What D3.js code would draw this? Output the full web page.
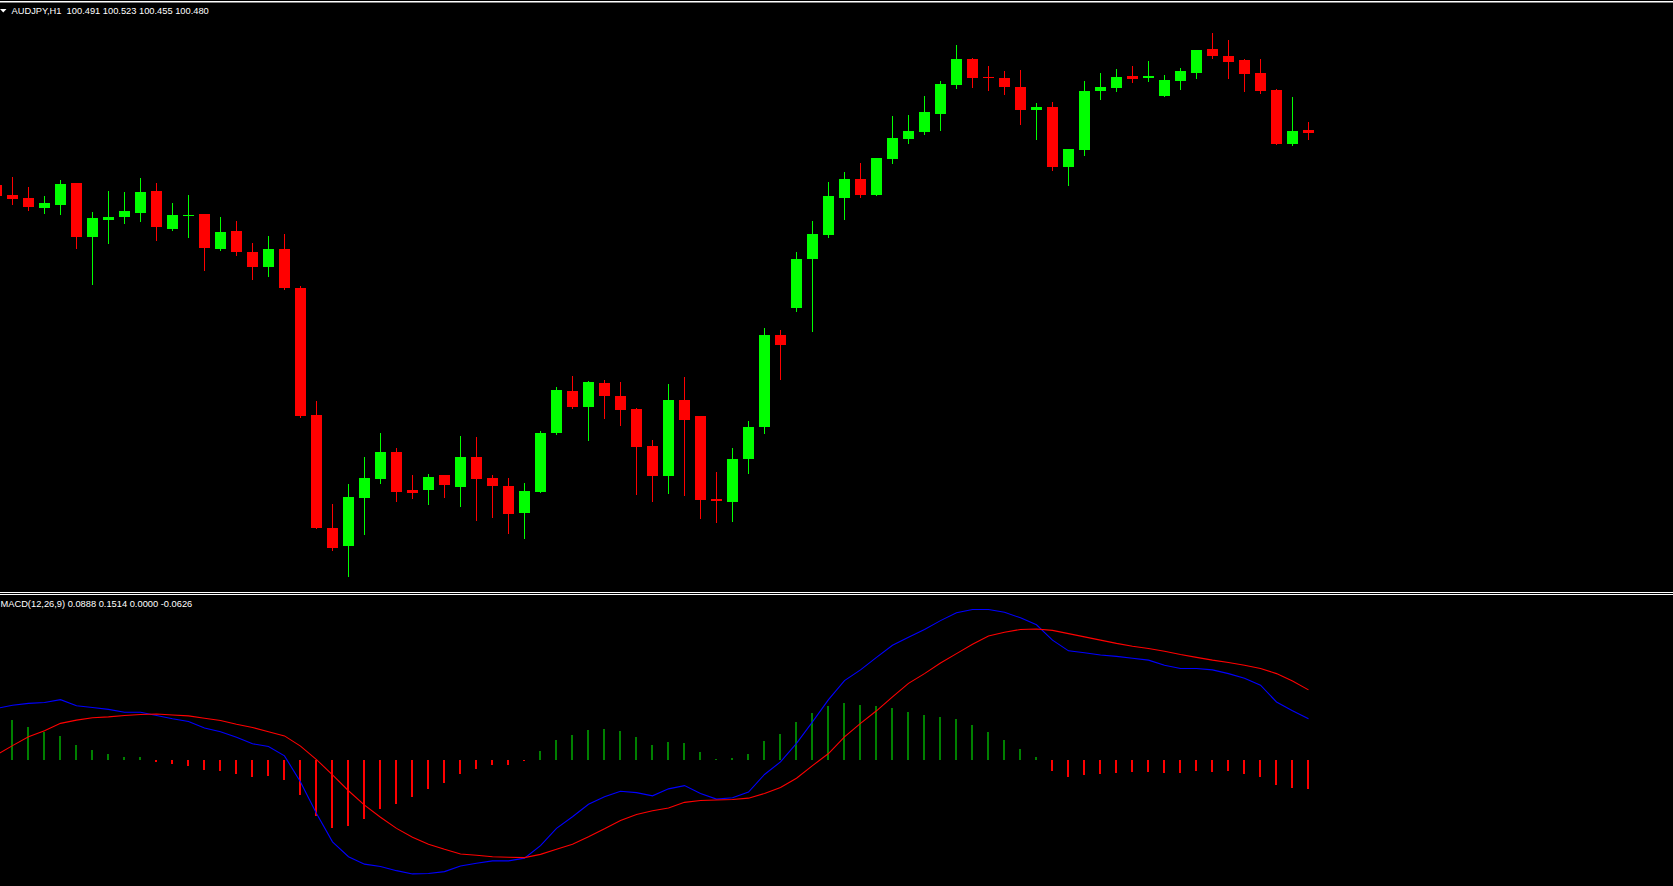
<!DOCTYPE html>
<html>
<head>
<meta charset="utf-8">
<script src="https://cdn.jsdelivr.net/npm/d3@7/dist/d3.min.js"></script>
<style>
  html, body { margin: 0; padding: 0; background: #000; overflow: hidden; }
  svg { display: block; }
</style>
</head>
<body>
<svg id="chart" width="1673" height="886"></svg>
<script>
// ---------- DATA ----------
const symbolLabel = "AUDJPY,H1";
const headerValues = ["100.491", "100.523", "100.455", "100.480"];
const macdLabel = "MACD(12,26,9)";
const macdHeaderValues = ["0.0888", "0.1514", "0.0000", "-0.0626"];

// bar numbers (-1 = partially visible bar at the left edge)
const barIndex = [-1,0,1,2,3,4,5,6,7,8,9,10,11,12,13,14,15,16,17,18,19,20,21,22,23,24,25,26,27,28,29,30,31,32,33,34,35,36,37,38,39,40,41,42,43,44,45,46,47,48,49,50,51,52,53,54,55,56,57,58,59,60,61,62,63,64,65,66,67,68,69,70,71,72,73,74,75,76,77,78,79,80,81];

const open = [100.271,100.231,100.219,100.180,100.191,100.279,100.063,100.131,100.143,100.159,100.247,100.095,100.147,100.155,100.015,100.087,100.003,99.943,100.015,99.859,99.351,98.899,98.828,99.020,99.096,99.203,99.051,99.052,99.111,99.064,99.183,99.099,99.067,98.960,99.044,99.280,99.447,99.384,99.479,99.427,99.375,99.227,99.108,99.411,99.347,99.015,99.004,99.176,99.304,99.671,99.780,99.976,100.072,100.220,100.295,100.232,100.376,100.456,100.484,100.556,100.672,100.775,100.703,100.699,100.663,100.572,100.583,100.344,100.412,100.648,100.660,100.707,100.700,100.628,100.688,100.720,100.815,100.787,100.771,100.719,100.651,100.436,100.491];
const high = [100.279,100.303,100.263,100.227,100.291,100.279,100.163,100.247,100.243,100.299,100.279,100.199,100.231,100.155,100.143,100.127,100.039,100.067,100.075,99.867,99.407,98.995,99.075,99.183,99.279,99.219,99.111,99.115,99.111,99.267,99.263,99.111,99.099,99.079,99.287,99.463,99.507,99.487,99.491,99.483,99.379,99.251,99.475,99.503,99.347,99.123,99.219,99.327,99.699,99.691,100.003,100.127,100.283,100.323,100.359,100.379,100.547,100.551,100.627,100.687,100.831,100.779,100.747,100.727,100.731,100.599,100.603,100.415,100.687,100.719,100.735,100.747,100.767,100.711,100.739,100.811,100.879,100.851,100.775,100.775,100.655,100.623,100.523];
const low = [100.219,100.196,100.172,100.160,100.156,100.020,99.876,100.040,100.120,100.127,100.051,100.091,100.063,99.932,100.012,99.991,99.896,99.908,99.856,99.344,98.898,98.812,98.708,98.876,99.080,99.008,99.020,98.996,99.024,98.988,98.932,98.944,98.880,98.860,99.044,99.276,99.380,99.252,99.340,99.312,99.036,99.008,99.040,99.032,98.940,98.924,98.928,99.120,99.280,99.495,99.768,99.688,100.064,100.136,100.224,100.231,100.360,100.440,100.476,100.492,100.660,100.664,100.652,100.636,100.516,100.456,100.332,100.272,100.392,100.616,100.648,100.684,100.688,100.628,100.656,100.700,100.780,100.700,100.648,100.640,100.436,100.432,100.455];
const close = [100.227,100.215,100.183,100.199,100.275,100.063,100.139,100.143,100.167,100.243,100.103,100.151,100.151,100.019,100.083,100.003,99.943,100.015,99.860,99.348,98.900,98.820,99.023,99.099,99.203,99.044,99.040,99.103,99.072,99.183,99.096,99.068,98.956,99.047,99.279,99.451,99.384,99.483,99.428,99.372,99.224,99.108,99.411,99.332,99.012,99.008,99.175,99.303,99.671,99.631,99.975,100.075,100.227,100.295,100.232,100.379,100.459,100.487,100.563,100.675,100.775,100.700,100.700,100.664,100.572,100.583,100.344,100.415,100.647,100.663,100.703,100.696,100.708,100.691,100.727,100.811,100.788,100.764,100.716,100.648,100.436,100.487,100.480];

const macdLine = [0.111,0.118,0.122,0.124,0.130,0.117,0.113,0.109,0.103,0.103,0.096,0.089,0.083,0.069,0.061,0.049,0.035,0.029,0.009,-0.047,-0.115,-0.176,-0.208,-0.224,-0.229,-0.238,-0.245,-0.244,-0.240,-0.228,-0.222,-0.217,-0.217,-0.211,-0.184,-0.147,-0.122,-0.095,-0.079,-0.067,-0.070,-0.077,-0.062,-0.055,-0.072,-0.084,-0.081,-0.069,-0.031,-0.004,0.036,0.082,0.130,0.171,0.194,0.221,0.247,0.264,0.281,0.300,0.317,0.324,0.324,0.318,0.306,0.291,0.258,0.235,0.231,0.226,0.223,0.219,0.215,0.204,0.197,0.197,0.194,0.186,0.176,0.161,0.125,0.106,0.089];
const signalLine = [0.011,0.031,0.050,0.063,0.079,0.086,0.091,0.093,0.096,0.098,0.099,0.097,0.095,0.090,0.085,0.077,0.070,0.061,0.052,0.030,0.001,-0.032,-0.066,-0.097,-0.123,-0.147,-0.166,-0.181,-0.192,-0.202,-0.205,-0.208,-0.209,-0.210,-0.203,-0.192,-0.181,-0.165,-0.148,-0.130,-0.117,-0.109,-0.103,-0.091,-0.087,-0.086,-0.085,-0.082,-0.072,-0.059,-0.039,-0.012,0.014,0.050,0.079,0.106,0.136,0.165,0.186,0.209,0.229,0.249,0.267,0.275,0.281,0.282,0.279,0.272,0.265,0.258,0.251,0.245,0.240,0.234,0.227,0.221,0.215,0.210,0.204,0.197,0.186,0.170,0.151];
const histogram = [0.100,0.086,0.071,0.061,0.052,0.032,0.022,0.013,0.006,0.006,-0.004,-0.009,-0.012,-0.022,-0.024,-0.029,-0.036,-0.034,-0.043,-0.075,-0.120,-0.146,-0.141,-0.127,-0.105,-0.094,-0.080,-0.062,-0.049,-0.030,-0.019,-0.011,-0.011,-0.002,0.019,0.043,0.054,0.065,0.067,0.062,0.049,0.032,0.039,0.037,0.017,0.002,0.004,0.013,0.041,0.056,0.082,0.101,0.116,0.123,0.118,0.116,0.112,0.103,0.097,0.092,0.088,0.075,0.060,0.043,0.024,0.006,-0.024,-0.036,-0.032,-0.030,-0.028,-0.026,-0.026,-0.028,-0.028,-0.024,-0.026,-0.024,-0.030,-0.037,-0.054,-0.060,-0.063];

// ---------- STYLE ----------
const BULL = "#00ff00", BEAR = "#ff0000";
const HIST_UP = "#008000", HIST_DN = "#ff0000";
const MACD_COLOR = "#0000ff", SIGNAL_COLOR = "#ff0000";
const FONT = "'Liberation Sans', Arial, sans-serif";

const svg = d3.select("#chart");
svg.append("rect").attr("width", 1673).attr("height", 886).attr("fill", "#000");

// scales
const x = d3.scaleLinear().domain([-1, 81]).range([-4, 1308]);
const y = d3.scaleLinear().domain([98.651, 101.011]).range([590, 0]);
const yM = d3.scaleLinear().domain([-0.271, 0.353]).range([886, 596]);

const candles = barIndex.map((b, k) => ({ b, o: open[k], h: high[k], l: low[k], c: close[k] }));

// ---------- MAIN PANEL ----------
const main = svg.append("g").attr("shape-rendering", "crispEdges");
main.selectAll("rect.wick").data(candles).join("rect")
  .attr("class", "wick")
  .attr("x", d => Math.round(x(d.b)))
  .attr("width", 1)
  .attr("y", d => Math.round(y(d.h)))
  .attr("height", d => Math.max(1, Math.round(y(d.l)) - Math.round(y(d.h)) + 1))
  .attr("fill", d => d.c >= d.o ? BULL : BEAR);

main.selectAll("rect.body").data(candles).join("rect")
  .attr("class", "body")
  .attr("x", d => Math.round(x(d.b)) - 5)
  .attr("width", 11)
  .attr("y", d => Math.round(y(Math.max(d.o, d.c))))
  .attr("height", d => Math.max(1, Math.round(y(Math.min(d.o, d.c))) - Math.round(y(Math.max(d.o, d.c)))))
  .attr("fill", d => d.c >= d.o ? BULL : BEAR);

// top border
svg.append("rect").attr("x", 0).attr("y", 1).attr("width", 1673).attr("height", 1.5).attr("fill", "#ffffff");

// header
svg.append("path").attr("d", "M0,9 L6.5,9 L3.25,12.5 Z").attr("fill", "#ffffff");
svg.append("text")
  .attr("x", 11.5).attr("y", 14)
  .attr("font-family", FONT).attr("font-size", "9.3px").attr("fill", "#ffffff")
  .attr("xml:space", "preserve")
  .text(symbolLabel + "  " + headerValues.join(" "));

// separator
svg.append("rect").attr("x", 0).attr("y", 592).attr("width", 1673).attr("height", 1).attr("fill", "#ffffff");
svg.append("rect").attr("x", 0).attr("y", 594).attr("width", 1673).attr("height", 1).attr("fill", "#ffffff");

// ---------- MACD PANEL ----------
const sub = svg.append("g");
const histData = barIndex.map((b, k) => ({ b, v: histogram[k] }));
sub.append("g").attr("shape-rendering", "crispEdges")
  .selectAll("rect").data(histData).join("rect")
  .attr("x", d => Math.round(x(d.b)) - 1)
  .attr("width", 2)
  .attr("y", d => d.v >= 0 ? Math.round(yM(d.v)) : Math.round(yM(0)))
  .attr("height", d => Math.max(1, Math.abs(Math.round(yM(d.v)) - Math.round(yM(0)))))
  .attr("fill", d => d.v >= 0 ? HIST_UP : HIST_DN);

const line = d3.line().x(d => Math.round(x(d[0])) + 0.5).y(d => yM(d[1]));
sub.append("path")
  .datum(barIndex.map((b, k) => [b, macdLine[k]]))
  .attr("d", line).attr("fill", "none").attr("stroke", MACD_COLOR).attr("stroke-width", 1.1);
sub.append("path")
  .datum(barIndex.map((b, k) => [b, signalLine[k]]))
  .attr("d", line).attr("fill", "none").attr("stroke", SIGNAL_COLOR).attr("stroke-width", 1.1);

svg.append("text")
  .attr("x", 0.5).attr("y", 606.5)
  .attr("font-family", FONT).attr("font-size", "9.3px").attr("fill", "#ffffff")
  .attr("xml:space", "preserve")
  .text(macdLabel + " " + macdHeaderValues.join(" "));
</script>
</body>
</html>
